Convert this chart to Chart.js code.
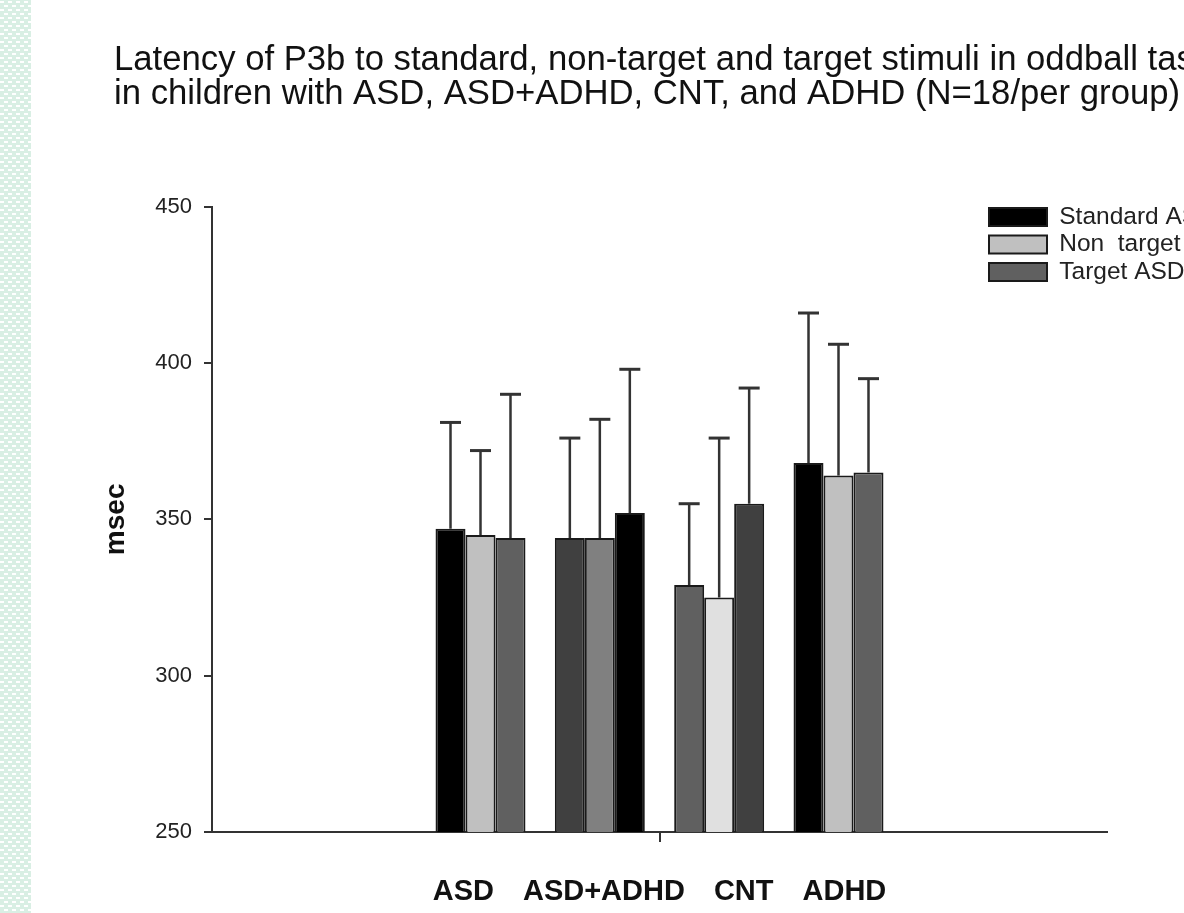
<!DOCTYPE html>
<html>
<head>
<meta charset="utf-8">
<title>P3b latency</title>
<script src="https://cdn.jsdelivr.net/npm/chart.js@4.4.1/dist/chart.umd.min.js"></script>
<style>
    html, body { margin: 0; padding: 0; background: #fff; overflow: hidden; }
    #wrap { position: absolute; left: 0; top: 0; }
    #stripe { position: absolute; left: 0; top: 0; width: 31px; height: 913px; }
</style>
</head>
<body>
<div id="wrap"><canvas id="p3bChart" width="1300" height="913"></canvas></div>
<div id="stripe"></div>
<script>
// values (msec)
const categories = ['ASD', 'ASD+ADHD', 'CNT', 'ADHD'];
const seriesNames = ['Standard ASD', 'Non  target ASD', 'Target ASD'];
const standardMean = [347, 344, 329, 368];
const standardSd = [34, 32, 26, 48];
const nonTargetMean = [345, 344, 325, 364];
const nonTargetSd = [27, 38, 51, 42];
const targetMean = [344, 352, 355, 365];
const targetSd = [46, 46, 37, 30];
const yTicks = [250, 300, 350, 400, 450];

// bar fills differ per group in the original
const standardFill = ['#000000', '#404040', '#606060', '#000000'];
const nonTargetFill = ['#c0c0c0', '#808080', '#e0e0e0', '#c0c0c0'];
const targetFill = ['#606060', '#000000', '#404040', '#606060'];

const FONT = "'Liberation Sans', Arial, sans-serif";

const stripeSvg = "<svg xmlns='http://www.w3.org/2000/svg' width='8' height='8'>" +
    "<rect width='8' height='8' fill='#d9efe4'/>" +
    "<rect x='0' y='1' width='4' height='2' fill='#ffffff'/>" +
    "<rect x='4' y='5' width='4' height='2' fill='#ffffff'/></svg>";
document.getElementById('stripe').style.backgroundImage =
    'url("data:image/svg+xml,' + encodeURIComponent(stripeSvg) + '")';

function toPoints(values) {
    return values.map((v, i) => ({ x: i, y: v }));
}

function makeSet(label, values, sd, fill) {
    return {
        label: label,
        data: toPoints(values),
        sd: sd,
        backgroundColor: fill,
        borderColor: '#1a1a1a',
        borderWidth: 2,
    };
}

// upper error bars only, like the original
const errorBars = {
    id: 'errorBars',
    afterDatasetsDraw(chart) {
        const { ctx } = chart;
        const y = chart.scales.y;
        ctx.save();
        ctx.strokeStyle = '#333';
        ctx.lineCap = 'butt';
        chart.data.datasets.forEach((ds, i) => {
            chart.getDatasetMeta(i).data.forEach((bar, j) => {
                const top = y.getPixelForValue(ds.data[j].y + ds.sd[j]);
                ctx.lineWidth = 2.5;
                ctx.beginPath();
                ctx.moveTo(bar.x, bar.y);
                ctx.lineTo(bar.x, top);
                ctx.stroke();
                ctx.lineWidth = 3;
                ctx.beginPath();
                ctx.moveTo(bar.x - 10.5, top);
                ctx.lineTo(bar.x + 10.5, top);
                ctx.stroke();
            });
        });
        ctx.restore();
    }
};

// legend sits in the upper right corner, overlapping the plot frame
const legendSpot = {
    id: 'legendSpot',
    afterLayout(chart) {
        const lg = chart.legend;
        const area = chart.chartArea;
        const w = lg.width, h = lg.height;
        lg.left = area.right - 121;
        lg.top = area.top - 5;
        lg.right = lg.left + w;
        lg.bottom = lg.top + h;
    }
};

new Chart(document.getElementById('p3bChart'), {
    type: 'bar',
    data: {
        datasets: [
            makeSet(seriesNames[0], standardMean, standardSd, standardFill),
            makeSet(seriesNames[1], nonTargetMean, nonTargetSd, nonTargetFill),
            makeSet(seriesNames[2], targetMean, targetSd, targetFill),
        ]
    },
    options: {
        responsive: false,
        animation: false,
        devicePixelRatio: 1,
        layout: { padding: { left: 114, right: 0, top: 0, bottom: 0 } },
        datasets: { bar: { barPercentage: 1, categoryPercentage: 0.754 } },
        plugins: {
            tooltip: { enabled: false },
            title: {
                display: true,
                align: 'start',
                text: [
                    'Latency of P3b to standard, non-target and target stimuli in oddball task',
                    'in children with ASD, ASD+ADHD, CNT, and ADHD (N=18/per group)'
                ],
                color: '#111',
                font: { family: FONT, size: 34.7, weight: 'normal', lineHeight: 0.99 },
                padding: { top: 43, bottom: 95 }
            },
            legend: {
                position: 'chartArea',
                align: 'start',
                labels: {
                    boxWidth: 58,
                    boxHeight: 18,
                    padding: 3,
                    color: '#222',
                    font: { family: FONT, size: 24.5 }
                }
            }
        },
        scales: {
            x: {
                type: 'linear',
                offset: false,
                min: -2.25,
                max: categories.length - 1 + 2.25,
                afterBuildTicks: (s) => { s.ticks = [{ value: (categories.length - 1) / 2 }]; },
                afterFit: (s) => { s.height = 81; },
                ticks: { display: false },
                grid: { offset: false, drawOnChartArea: false, drawTicks: true, tickLength: 10, color: '#333', lineWidth: 2 },
                border: { display: true, color: '#333', width: 2 },
                title: {
                    display: true,
                    text: categories.join('   \u2006'),
                    color: '#111',
                    font: { family: FONT, size: 29, weight: 'bold' },
                    padding: { top: 0, bottom: 4 }
                }
            },
            y: {
                min: yTicks[0],
                max: yTicks[yTicks.length - 1],
                beginAtZero: false,
                afterBuildTicks: (s) => { s.ticks = yTicks.map(v => ({ value: v })); },
                afterFit: (s) => { s.width = 98; },
                ticks: {
                    color: '#222',
                    padding: 12,
                    font: { family: FONT, size: 22 }
                },
                grid: { drawOnChartArea: false, drawTicks: true, tickLength: 8, color: '#333', lineWidth: 2 },
                border: { display: true, color: '#333', width: 2 },
                title: {
                    display: true,
                    text: 'msec',
                    color: '#111',
                    font: { family: FONT, size: 28, weight: 'bold' },
                    padding: { top: -15, bottom: 0 }
                }
            },
            // empty right-hand box that keeps the plot frame ending where the original does
            yRight: {
                position: 'right',
                display: true,
                afterFit: (s) => { s.width = 193; },
                ticks: { display: false },
                grid: { display: false },
                border: { display: false }
            }
        }
    },
    plugins: [errorBars, legendSpot]
});
</script>
</body>
</html>
